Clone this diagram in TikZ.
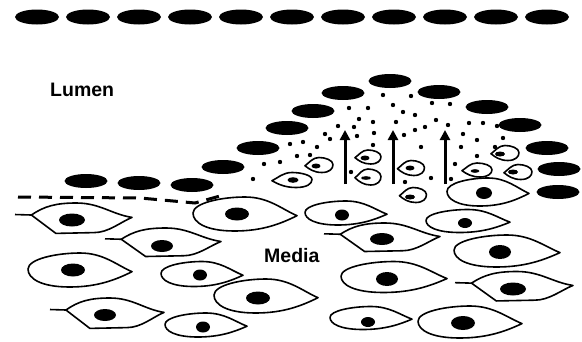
\documentclass[tikz,border=0pt]{standalone}
\usepackage{fontspec}
\setsansfont{Liberation Sans}
\usetikzlibrary{arrows.meta}

\begin{document}
\begin{tikzpicture}[x=1pt,y=-1pt,
  wall/.style={line width=1.6pt,line join=round},
  flow/.style={line width=3pt,-{Triangle[width=10pt,length=10pt]}},
  lbl/.style={font=\sffamily\bfseries\fontsize{19.5}{22}\selectfont,inner sep=0pt,anchor=base west}]
\useasboundingbox (0,0) rectangle (582,341);
% endothelial cells
\foreach \i in {0,...,10}{\fill (37+51*\i,17) ellipse[x radius=22,y radius=7.5];}
\foreach \x/\y in {86/181,139/183,192/185,223/167,258/148,287/128,313/111,343/93,390/81,439/92,487/107,520/125,547/148,559/169,558/192}{\fill (\x,\y) ellipse[x radius=21.5,y radius=7];}
\draw[line width=3pt,dash pattern=on 13pt off 8pt] (18,197) -- (140,198) -- (195,203) -- (220,196);
% media: leaf shaped cells
\foreach \x/\y/\a/\b/\nx/\ny/\rx/\ry in {245/214/52/17/237/214/12/6.5,80/270/52/17/73/270/12/6.5,202/274/41/12.5/200/275/7/5.5,206/325/41/12/203/327/7/5.5,266/296/52/17/258/298/12/6.5,346/213/41/12/342/215/7/5.5,468/221/42/11.5/465/223/7/5,507/251/53/16/500/252/11/7,394/277/53/15.5/387/279/11/7,371/318/41/11.5/368/322/7/5,470/322/52/16/463/323/12/7,488/192/41/14/484/193/8/6}{
  \begin{scope}[shift={(\x,\y)},xscale=\a,yscale=\b]
  \draw[wall] (-1,-0.05) .. controls (-1,-0.65) and (-0.45,-1) .. (0,-1) .. controls (0.45,-1) and (0.7,-0.3) .. (1,0.1) .. controls (0.7,0.55) and (0.35,1) .. (-0.2,1) .. controls (-0.75,1) and (-1,0.5) .. cycle;
  \end{scope}
  \fill (\nx,\ny) ellipse[x radius=\rx,y radius=\ry];}
% media: spindle cells with a tail
\foreach \x/\y/\a/\b/\nx/\ny/\rx/\ry in {73.5/219/58.5/16/72/220/13/6.5,163/243/58/15/162/246/11/6,107/314/57/16/105/315/11/6,382/238/58/15/382/239/12/6,514/287/59/15.5/513/289/13/6.5}{
  \begin{scope}[shift={(\x,\y)},xscale=\a,yscale=\b]
  \draw[wall] (-1,-0.28) -- (-0.72,-0.25);
  \draw[wall] (-0.72,-0.25) .. controls (-0.5,-0.8) and (-0.3,-1) .. (0.05,-1) .. controls (0.45,-1) and (0.65,-0.3) .. (1,-0.1) .. controls (0.8,0.2) and (0.6,0.85) .. (0.35,0.85) -- (-0.3,0.9) -- cycle;
  \end{scope}
  \fill (\nx,\ny) ellipse[x radius=\rx,y radius=\ry];}
% migrating cells
\foreach \x/\y/\a/\b/\nx/\ny/\rx/\ry in {292/180/20/7.5/293/180/5.5/2.8,319/165/14/7.5/316/166/4.5/2.5,368/157/13/7/365/158/4.5/2.5,368/177/13/8/366/178/5/1.8,411/168/13.5/7.5/410/168/4.5/2.5,413/195/13.5/7.5/410/197/5/2.5,477/170/15/7/475/171/4.5/1.8,505/153/14/7.5/500/154/5/2.5,518/172/14/7.5/513/172/5/2.5}{
  \begin{scope}[shift={(\x,\y)},xscale=-\a,yscale=\b]
  \draw[wall] (-1,-0.05) .. controls (-1,-0.65) and (-0.45,-1) .. (0,-1) .. controls (0.45,-1) and (0.7,-0.3) .. (1,0.1) .. controls (0.7,0.55) and (0.35,1) .. (-0.2,1) .. controls (-0.75,1) and (-1,0.5) .. cycle;
  \end{scope}
  \fill (\nx,\ny) ellipse[x radius=\rx,y radius=\ry];}
% particles
\foreach \x/\y in {383/95,411/96,432/103,450/104,349/108,368/108,393/105,403/112,415/115,359/119,373/122,396/122,436/120,448/125,469/123,483/123,497/126,338/126,354/127,325/134,330/139,357/136,374/133,415/130,425/127,404/135,463/134,477/140,503/138,373/145,290/144,303/142,317/147,297/156,310/155,280/162,264/164,253/179,421/147,461/147,477/156,495/147,455/164,351/172,405/182,431/178,451/179}{\fill (\x,\y) circle (2.2);}
\foreach \x in {345,393,445}{\draw[flow] (\x,184) -- (\x,130);}
\node[lbl] (lumen) at (50,96) {Lumen};
\node[lbl] (media) at (264,262) {Media};
\end{tikzpicture}
\end{document}
